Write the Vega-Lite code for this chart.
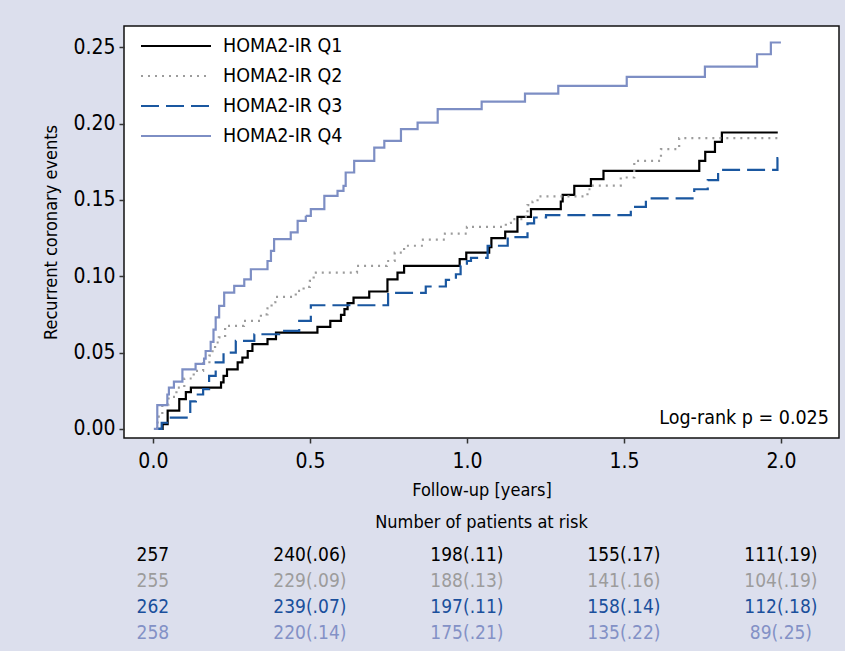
{
  "$schema": "https://vega.github.io/schema/vega-lite/v6.json",
  "background": "#dcdfed",
  "padding": {"left": 42, "top": 25, "right": 5, "bottom": 5},
  "config": {
    "font": "Liberation Sans Narrow, Arial Narrow, DejaVu Sans Condensed, sans-serif",
    "axis": {"grid": false, "domain": false, "tickColor": "#333", "tickSize": 5, "tickWidth": 1.5, "labelColor": "#000", "titleColor": "#000", "labelFontSize": 21, "titleFontSize": 18, "titleFontWeight": "normal"},
    "legend": {"labelFontSize": 19.5, "labelColor": "#000"}
  },
  "datasets": {
    "curves": [
      {"g": "HOMA2-IR Q1", "t": 0.01, "r": 0},
      {"g": "HOMA2-IR Q1", "t": 0.031, "r": 0.003},
      {"g": "HOMA2-IR Q1", "t": 0.047, "r": 0.012},
      {"g": "HOMA2-IR Q1", "t": 0.084, "r": 0.0195},
      {"g": "HOMA2-IR Q1", "t": 0.105, "r": 0.024},
      {"g": "HOMA2-IR Q1", "t": 0.121, "r": 0.027},
      {"g": "HOMA2-IR Q1", "t": 0.217, "r": 0.0304},
      {"g": "HOMA2-IR Q1", "t": 0.225, "r": 0.0347},
      {"g": "HOMA2-IR Q1", "t": 0.236, "r": 0.039},
      {"g": "HOMA2-IR Q1", "t": 0.27, "r": 0.0435},
      {"g": "HOMA2-IR Q1", "t": 0.285, "r": 0.0467},
      {"g": "HOMA2-IR Q1", "t": 0.302, "r": 0.051},
      {"g": "HOMA2-IR Q1", "t": 0.317, "r": 0.0555},
      {"g": "HOMA2-IR Q1", "t": 0.365, "r": 0.0588},
      {"g": "HOMA2-IR Q1", "t": 0.392, "r": 0.0631},
      {"g": "HOMA2-IR Q1", "t": 0.524, "r": 0.0668},
      {"g": "HOMA2-IR Q1", "t": 0.565, "r": 0.0708},
      {"g": "HOMA2-IR Q1", "t": 0.599, "r": 0.0747},
      {"g": "HOMA2-IR Q1", "t": 0.61, "r": 0.0784},
      {"g": "HOMA2-IR Q1", "t": 0.62, "r": 0.0824},
      {"g": "HOMA2-IR Q1", "t": 0.639, "r": 0.086},
      {"g": "HOMA2-IR Q1", "t": 0.689, "r": 0.09},
      {"g": "HOMA2-IR Q1", "t": 0.747, "r": 0.098},
      {"g": "HOMA2-IR Q1", "t": 0.779, "r": 0.1024},
      {"g": "HOMA2-IR Q1", "t": 0.8, "r": 0.1068},
      {"g": "HOMA2-IR Q1", "t": 0.977, "r": 0.1112},
      {"g": "HOMA2-IR Q1", "t": 0.998, "r": 0.1155},
      {"g": "HOMA2-IR Q1", "t": 1.071, "r": 0.119},
      {"g": "HOMA2-IR Q1", "t": 1.078, "r": 0.125},
      {"g": "HOMA2-IR Q1", "t": 1.122, "r": 0.1293},
      {"g": "HOMA2-IR Q1", "t": 1.161, "r": 0.1389},
      {"g": "HOMA2-IR Q1", "t": 1.204, "r": 0.144},
      {"g": "HOMA2-IR Q1", "t": 1.299, "r": 0.149},
      {"g": "HOMA2-IR Q1", "t": 1.305, "r": 0.1533},
      {"g": "HOMA2-IR Q1", "t": 1.342, "r": 0.1592},
      {"g": "HOMA2-IR Q1", "t": 1.395, "r": 0.1636},
      {"g": "HOMA2-IR Q1", "t": 1.435, "r": 0.169},
      {"g": "HOMA2-IR Q1", "t": 1.74, "r": 0.1756},
      {"g": "HOMA2-IR Q1", "t": 1.759, "r": 0.1815},
      {"g": "HOMA2-IR Q1", "t": 1.79, "r": 0.188},
      {"g": "HOMA2-IR Q1", "t": 1.812, "r": 0.1942},
      {"g": "HOMA2-IR Q1", "t": 1.99, "r": 0.1942},

      {"g": "HOMA2-IR Q2", "t": 0.01, "r": 0},
      {"g": "HOMA2-IR Q2", "t": 0.015, "r": 0.008},
      {"g": "HOMA2-IR Q2", "t": 0.03, "r": 0.016},
      {"g": "HOMA2-IR Q2", "t": 0.05, "r": 0.021},
      {"g": "HOMA2-IR Q2", "t": 0.075, "r": 0.027},
      {"g": "HOMA2-IR Q2", "t": 0.1, "r": 0.033},
      {"g": "HOMA2-IR Q2", "t": 0.13, "r": 0.038},
      {"g": "HOMA2-IR Q2", "t": 0.16, "r": 0.043},
      {"g": "HOMA2-IR Q2", "t": 0.18, "r": 0.048},
      {"g": "HOMA2-IR Q2", "t": 0.19, "r": 0.052},
      {"g": "HOMA2-IR Q2", "t": 0.198, "r": 0.0566},
      {"g": "HOMA2-IR Q2", "t": 0.21, "r": 0.06},
      {"g": "HOMA2-IR Q2", "t": 0.23, "r": 0.0675},
      {"g": "HOMA2-IR Q2", "t": 0.29, "r": 0.0708},
      {"g": "HOMA2-IR Q2", "t": 0.344, "r": 0.075},
      {"g": "HOMA2-IR Q2", "t": 0.365, "r": 0.079},
      {"g": "HOMA2-IR Q2", "t": 0.378, "r": 0.083},
      {"g": "HOMA2-IR Q2", "t": 0.39, "r": 0.0865},
      {"g": "HOMA2-IR Q2", "t": 0.455, "r": 0.0904},
      {"g": "HOMA2-IR Q2", "t": 0.48, "r": 0.093},
      {"g": "HOMA2-IR Q2", "t": 0.5, "r": 0.097},
      {"g": "HOMA2-IR Q2", "t": 0.512, "r": 0.1},
      {"g": "HOMA2-IR Q2", "t": 0.519, "r": 0.1024},
      {"g": "HOMA2-IR Q2", "t": 0.65, "r": 0.1068},
      {"g": "HOMA2-IR Q2", "t": 0.745, "r": 0.11},
      {"g": "HOMA2-IR Q2", "t": 0.77, "r": 0.1155},
      {"g": "HOMA2-IR Q2", "t": 0.8, "r": 0.12},
      {"g": "HOMA2-IR Q2", "t": 0.86, "r": 0.124},
      {"g": "HOMA2-IR Q2", "t": 0.93, "r": 0.128},
      {"g": "HOMA2-IR Q2", "t": 1.0, "r": 0.1324},
      {"g": "HOMA2-IR Q2", "t": 1.124, "r": 0.135},
      {"g": "HOMA2-IR Q2", "t": 1.14, "r": 0.1374},
      {"g": "HOMA2-IR Q2", "t": 1.188, "r": 0.1406},
      {"g": "HOMA2-IR Q2", "t": 1.193, "r": 0.1466},
      {"g": "HOMA2-IR Q2", "t": 1.209, "r": 0.149},
      {"g": "HOMA2-IR Q2", "t": 1.225, "r": 0.1524},
      {"g": "HOMA2-IR Q2", "t": 1.384, "r": 0.157},
      {"g": "HOMA2-IR Q2", "t": 1.394, "r": 0.1594},
      {"g": "HOMA2-IR Q2", "t": 1.49, "r": 0.1647},
      {"g": "HOMA2-IR Q2", "t": 1.533, "r": 0.1756},
      {"g": "HOMA2-IR Q2", "t": 1.618, "r": 0.1833},
      {"g": "HOMA2-IR Q2", "t": 1.676, "r": 0.1905},
      {"g": "HOMA2-IR Q2", "t": 1.99, "r": 0.1905},

      {"g": "HOMA2-IR Q3", "t": 0.01, "r": 0},
      {"g": "HOMA2-IR Q3", "t": 0.028, "r": 0.004},
      {"g": "HOMA2-IR Q3", "t": 0.045, "r": 0.0074},
      {"g": "HOMA2-IR Q3", "t": 0.119, "r": 0.018},
      {"g": "HOMA2-IR Q3", "t": 0.137, "r": 0.0225},
      {"g": "HOMA2-IR Q3", "t": 0.16, "r": 0.026},
      {"g": "HOMA2-IR Q3", "t": 0.179, "r": 0.0347},
      {"g": "HOMA2-IR Q3", "t": 0.2, "r": 0.0435},
      {"g": "HOMA2-IR Q3", "t": 0.225, "r": 0.05},
      {"g": "HOMA2-IR Q3", "t": 0.264, "r": 0.0577},
      {"g": "HOMA2-IR Q3", "t": 0.323, "r": 0.062},
      {"g": "HOMA2-IR Q3", "t": 0.402, "r": 0.0642},
      {"g": "HOMA2-IR Q3", "t": 0.466, "r": 0.0708},
      {"g": "HOMA2-IR Q3", "t": 0.503, "r": 0.081},
      {"g": "HOMA2-IR Q3", "t": 0.749, "r": 0.0891},
      {"g": "HOMA2-IR Q3", "t": 0.869, "r": 0.0933},
      {"g": "HOMA2-IR Q3", "t": 0.933, "r": 0.0976},
      {"g": "HOMA2-IR Q3", "t": 0.965, "r": 0.1013},
      {"g": "HOMA2-IR Q3", "t": 0.98, "r": 0.107},
      {"g": "HOMA2-IR Q3", "t": 1.0, "r": 0.11},
      {"g": "HOMA2-IR Q3", "t": 1.013, "r": 0.112},
      {"g": "HOMA2-IR Q3", "t": 1.066, "r": 0.12},
      {"g": "HOMA2-IR Q3", "t": 1.13, "r": 0.1256},
      {"g": "HOMA2-IR Q3", "t": 1.193, "r": 0.1347},
      {"g": "HOMA2-IR Q3", "t": 1.214, "r": 0.1385},
      {"g": "HOMA2-IR Q3", "t": 1.252, "r": 0.14},
      {"g": "HOMA2-IR Q3", "t": 1.522, "r": 0.1455},
      {"g": "HOMA2-IR Q3", "t": 1.57, "r": 0.151},
      {"g": "HOMA2-IR Q3", "t": 1.724, "r": 0.157},
      {"g": "HOMA2-IR Q3", "t": 1.767, "r": 0.163},
      {"g": "HOMA2-IR Q3", "t": 1.8, "r": 0.1697},
      {"g": "HOMA2-IR Q3", "t": 1.989, "r": 0.1774},
      {"g": "HOMA2-IR Q3", "t": 1.995, "r": 0.1774},

      {"g": "HOMA2-IR Q4", "t": 0.003, "r": 0},
      {"g": "HOMA2-IR Q4", "t": 0.014, "r": 0.0155},
      {"g": "HOMA2-IR Q4", "t": 0.046, "r": 0.0225},
      {"g": "HOMA2-IR Q4", "t": 0.051, "r": 0.027},
      {"g": "HOMA2-IR Q4", "t": 0.067, "r": 0.031},
      {"g": "HOMA2-IR Q4", "t": 0.094, "r": 0.039},
      {"g": "HOMA2-IR Q4", "t": 0.136, "r": 0.0426},
      {"g": "HOMA2-IR Q4", "t": 0.163, "r": 0.046},
      {"g": "HOMA2-IR Q4", "t": 0.168, "r": 0.051},
      {"g": "HOMA2-IR Q4", "t": 0.184, "r": 0.057},
      {"g": "HOMA2-IR Q4", "t": 0.193, "r": 0.065},
      {"g": "HOMA2-IR Q4", "t": 0.2, "r": 0.073},
      {"g": "HOMA2-IR Q4", "t": 0.211, "r": 0.0806},
      {"g": "HOMA2-IR Q4", "t": 0.227, "r": 0.0893},
      {"g": "HOMA2-IR Q4", "t": 0.259, "r": 0.0937},
      {"g": "HOMA2-IR Q4", "t": 0.291, "r": 0.098},
      {"g": "HOMA2-IR Q4", "t": 0.312, "r": 0.1046},
      {"g": "HOMA2-IR Q4", "t": 0.365, "r": 0.11},
      {"g": "HOMA2-IR Q4", "t": 0.376, "r": 0.1166},
      {"g": "HOMA2-IR Q4", "t": 0.386, "r": 0.1243},
      {"g": "HOMA2-IR Q4", "t": 0.439, "r": 0.1287},
      {"g": "HOMA2-IR Q4", "t": 0.461, "r": 0.1363},
      {"g": "HOMA2-IR Q4", "t": 0.487, "r": 0.1396},
      {"g": "HOMA2-IR Q4", "t": 0.503, "r": 0.144},
      {"g": "HOMA2-IR Q4", "t": 0.546, "r": 0.1527},
      {"g": "HOMA2-IR Q4", "t": 0.588, "r": 0.156},
      {"g": "HOMA2-IR Q4", "t": 0.607, "r": 0.1592},
      {"g": "HOMA2-IR Q4", "t": 0.614, "r": 0.168},
      {"g": "HOMA2-IR Q4", "t": 0.641, "r": 0.1756},
      {"g": "HOMA2-IR Q4", "t": 0.705, "r": 0.1843},
      {"g": "HOMA2-IR Q4", "t": 0.737, "r": 0.1887},
      {"g": "HOMA2-IR Q4", "t": 0.79, "r": 0.1964},
      {"g": "HOMA2-IR Q4", "t": 0.843, "r": 0.2007},
      {"g": "HOMA2-IR Q4", "t": 0.907, "r": 0.2095},
      {"g": "HOMA2-IR Q4", "t": 1.047, "r": 0.2145},
      {"g": "HOMA2-IR Q4", "t": 1.185, "r": 0.2197},
      {"g": "HOMA2-IR Q4", "t": 1.291, "r": 0.2248},
      {"g": "HOMA2-IR Q4", "t": 1.509, "r": 0.2307},
      {"g": "HOMA2-IR Q4", "t": 1.758, "r": 0.2374},
      {"g": "HOMA2-IR Q4", "t": 1.924, "r": 0.2455},
      {"g": "HOMA2-IR Q4", "t": 1.968, "r": 0.2532},
      {"g": "HOMA2-IR Q4", "t": 2.0, "r": 0.2532}
    ],
    "risk": [
      {"g": "HOMA2-IR Q1", "t": 0, "label": "257"},
      {"g": "HOMA2-IR Q1", "t": 0.5, "label": "240(.06)"},
      {"g": "HOMA2-IR Q1", "t": 1.0, "label": "198(.11)"},
      {"g": "HOMA2-IR Q1", "t": 1.5, "label": "155(.17)"},
      {"g": "HOMA2-IR Q1", "t": 2.0, "label": "111(.19)"},
      {"g": "HOMA2-IR Q2", "t": 0, "label": "255"},
      {"g": "HOMA2-IR Q2", "t": 0.5, "label": "229(.09)"},
      {"g": "HOMA2-IR Q2", "t": 1.0, "label": "188(.13)"},
      {"g": "HOMA2-IR Q2", "t": 1.5, "label": "141(.16)"},
      {"g": "HOMA2-IR Q2", "t": 2.0, "label": "104(.19)"},
      {"g": "HOMA2-IR Q3", "t": 0, "label": "262"},
      {"g": "HOMA2-IR Q3", "t": 0.5, "label": "239(.07)"},
      {"g": "HOMA2-IR Q3", "t": 1.0, "label": "197(.11)"},
      {"g": "HOMA2-IR Q3", "t": 1.5, "label": "158(.14)"},
      {"g": "HOMA2-IR Q3", "t": 2.0, "label": "112(.18)"},
      {"g": "HOMA2-IR Q4", "t": 0, "label": "258"},
      {"g": "HOMA2-IR Q4", "t": 0.5, "label": "220(.14)"},
      {"g": "HOMA2-IR Q4", "t": 1.0, "label": "175(.21)"},
      {"g": "HOMA2-IR Q4", "t": 1.5, "label": "135(.22)"},
      {"g": "HOMA2-IR Q4", "t": 2.0, "label": "89(.25)"}
    ]
  },
  "spacing": 14,
  "resolve": {"scale": {"x": "independent", "y": "independent", "color": "independent", "strokeDash": "independent"}, "legend": {"color": "independent", "strokeDash": "independent"}},
  "vconcat": [
    {
      "width": 715,
      "height": 412,
      "view": {"stroke": "#111", "strokeWidth": 1.5, "fill": "white"},
      "layer": [
        {
          "data": {"name": "curves"},
          "mark": {"type": "line", "interpolate": "step-after", "strokeWidth": 2.2},
          "encoding": {
            "x": {"field": "t", "type": "quantitative", "scale": {"domain": [-0.092, 2.185], "nice": false, "zero": false},
                  "axis": {"values": [0, 0.5, 1, 1.5, 2], "format": ".1f", "title": "Follow-up [years]", "labelPadding": 7, "titlePadding": 10}},
            "y": {"field": "r", "type": "quantitative", "scale": {"domain": [-0.006, 0.264], "nice": false, "zero": false},
                  "axis": {"values": [0, 0.05, 0.1, 0.15, 0.2, 0.25], "format": ".2f", "title": "Recurrent coronary events", "labelPadding": 4, "titlePadding": 12}},
            "color": {"field": "g", "type": "nominal",
                      "scale": {"domain": ["HOMA2-IR Q1", "HOMA2-IR Q2", "HOMA2-IR Q3", "HOMA2-IR Q4"], "range": ["#000000", "#9c9c9c", "#1a57a0", "#7d8ec4"]},
                      "legend": {"title": null, "orient": "none", "legendX": 16, "legendY": 5, "symbolType": "stroke", "symbolSize": 4900, "symbolStrokeWidth": 2, "clipHeight": 30, "rowPadding": 0, "labelOffset": 11}},
            "strokeDash": {"field": "g", "type": "nominal",
                      "scale": {"domain": ["HOMA2-IR Q1", "HOMA2-IR Q2", "HOMA2-IR Q3", "HOMA2-IR Q4"], "range": [[1, 0], [2, 5], [18, 7], [1, 0]]},
                      "legend": {"title": null, "orient": "none", "legendX": 16, "legendY": 5, "symbolType": "stroke", "symbolSize": 4900, "symbolStrokeWidth": 2, "clipHeight": 30, "rowPadding": 0, "labelOffset": 11}}
          }
        },
        {
          "data": {"values": [{"t": 2.153, "r": 0.0033, "label": "Log-rank p = 0.025"}]},
          "mark": {"type": "text", "align": "right", "baseline": "alphabetic", "fontSize": 19.5, "color": "#000"},
          "encoding": {
            "x": {"field": "t", "type": "quantitative"},
            "y": {"field": "r", "type": "quantitative"},
            "text": {"field": "label"}
          }
        }
      ]
    },
    {
      "width": 715,
      "height": 104,
      "view": {"stroke": null, "fill": null},
      "title": {"text": "Number of patients at risk", "fontSize": 18, "fontWeight": "normal", "anchor": "middle", "offset": 10, "color": "#000"},
      "data": {"name": "risk"},
      "mark": {"type": "text", "fontSize": 19, "align": "center", "baseline": "middle"},
      "encoding": {
        "x": {"field": "t", "type": "quantitative", "scale": {"domain": [-0.092, 2.185], "nice": false, "zero": false}, "axis": null},
        "y": {"field": "g", "type": "ordinal", "scale": {"type": "point", "padding": 0.5}, "axis": null},
        "text": {"field": "label"},
        "color": {"field": "g", "type": "nominal",
                  "scale": {"domain": ["HOMA2-IR Q1", "HOMA2-IR Q2", "HOMA2-IR Q3", "HOMA2-IR Q4"], "range": ["#000000", "#9c9c9c", "#1a4f9c", "#8391c6"]},
                  "legend": null}
      }
    }
  ]
}
